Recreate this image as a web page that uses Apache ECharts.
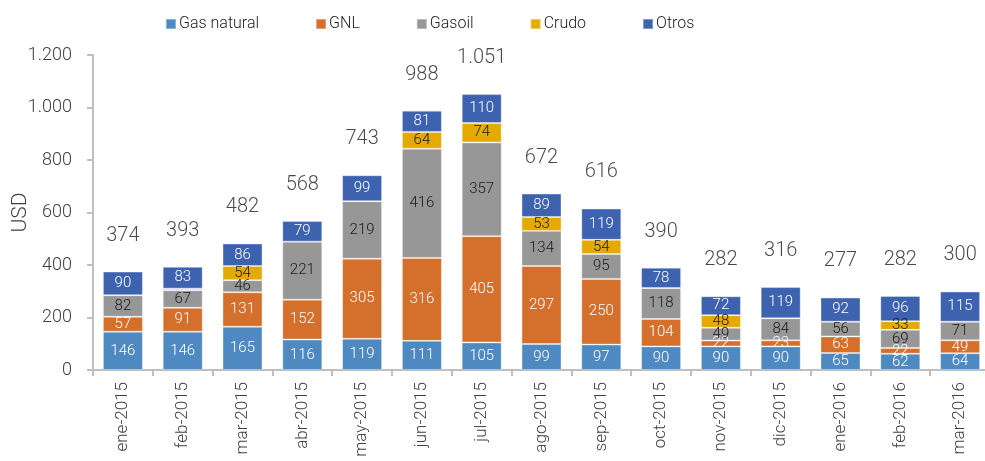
<!DOCTYPE html>
<html lang="es">
<head>
    <meta charset="UTF-8">
    <title>USD por producto</title>
    <style>
        html, body { margin: 0; padding: 0; background: #fff; }
        #chart { width: 985px; height: 461px; }
    </style>
</head>
<body>
    <div id="chart"></div>
    <script src="https://cdn.jsdelivr.net/npm/echarts@6/dist/echarts.min.js"></script>
    <script>
        var months = ['ene-2015', 'feb-2015', 'mar-2015', 'abr-2015', 'may-2015', 'jun-2015', 'jul-2015', 'ago-2015',
            'sep-2015', 'oct-2015', 'nov-2015', 'dic-2015', 'ene-2016', 'feb-2016', 'mar-2016'];
        var gasNatural = [146, 146, 165, 116, 119, 111, 105, 99, 97, 90, 90, 90, 65, 62, 64];
        var gnl = [57, 91, 131, 152, 305, 316, 405, 297, 250, 104, 22, 23, 63, 22, 49];
        var gasoil = [82, 67, 46, 221, 219, 416, 357, 134, 95, 118, 49, 84, 56, 69, 71];
        var crudo = [0, 6, 54, 0, 0, 64, 74, 53, 54, 0, 48, 0, 0, 33, 0];
        var otros = [90, 83, 86, 79, 99, 81, 110, 89, 119, 78, 72, 119, 92, 96, 115];
        var totales = [374, 393, 482, 568, 743, 988, 1051, 672, 616, 390, 282, 316, 277, 282, 300];

        // separador de miles con punto
        function fmt(v) {
            return String(v).replace(/\B(?=(\d{3})+(?!\d))/g, '.');
        }

        function serie(name, data, color, textColor) {
            return {
                name: name,
                type: 'bar',
                stack: 'total',
                data: data,
                barWidth: 40,
                itemStyle: { color: color, borderColor: 'rgba(255,255,255,0.35)', borderWidth: 1 },
                label: {
                    show: true,
                    position: 'inside',
                    color: textColor,
                    fontSize: 15,
                    fontWeight: 300,
                    formatter: function (p) { return p.value >= 10 ? p.value : ''; }
                },
                emphasis: { disabled: true }
            };
        }

        var chart = echarts.init(document.getElementById('chart'));
        var option = {
            animation: false,
            textStyle: { fontFamily: 'Roboto', fontWeight: 300 },
            legend: {
                top: 11,
                left: 160,
                itemGap: 56,
                itemWidth: 10,
                itemHeight: 10,
                icon: 'rect',
                textStyle: { fontSize: 16, fontWeight: 300, color: '#222', padding: [0, 0, 0, -2] },
                data: ['Gas natural', 'GNL', 'Gasoil', 'Crudo', 'Otros']
            },
            grid: { left: 93, right: -5, top: 55, bottom: 91, outerBoundsMode: 'none' },
            xAxis: {
                type: 'category',
                data: months,
                axisLine: { lineStyle: { color: '#bfbfbf', width: 2 } },
                axisTick: { show: true, length: 6, lineStyle: { color: '#bfbfbf', width: 2 } },
                axisLabel: { rotate: 90, fontSize: 17, fontWeight: 300, color: '#404040', margin: 12, interval: 0 }
            },
            yAxis: {
                type: 'value',
                min: 0,
                max: 1200,
                interval: 200,
                name: 'USD',
                nameLocation: 'middle',
                nameGap: 62,
                nameMoveOverlap: false,
                nameTextStyle: { fontSize: 21, fontWeight: 300, color: '#404040' },
                axisLine: { show: true, lineStyle: { color: '#bfbfbf', width: 2 } },
                axisTick: { show: true, length: 6, lineStyle: { color: '#bfbfbf', width: 2 } },
                splitLine: { show: false },
                axisLabel: { fontSize: 18, fontWeight: 300, color: '#404040', margin: 21, formatter: fmt }
            },
            series: [
                serie('Gas natural', gasNatural, '#4f89c2', '#fff'),
                serie('GNL', gnl, '#d46f2c', '#fff'),
                serie('Gasoil', gasoil, '#979797', '#1a1a1a'),
                serie('Crudo', crudo, '#e4aa00', '#1a1a1a'),
                serie('Otros', otros, '#3d63b0', '#fff'),
                {
                    name: 'Total',
                    type: 'scatter',
                    data: totales,
                    symbolSize: 0,
                    silent: true,
                    label: {
                        show: true,
                        position: 'top',
                        distance: 26,
                        fontSize: 20,
                        fontWeight: 300,
                        color: '#1a1a1a',
                        formatter: function (p) { return fmt(p.value); }
                    }
                }
            ]
        };
        chart.setOption(option);
    </script>
</body>
</html>
